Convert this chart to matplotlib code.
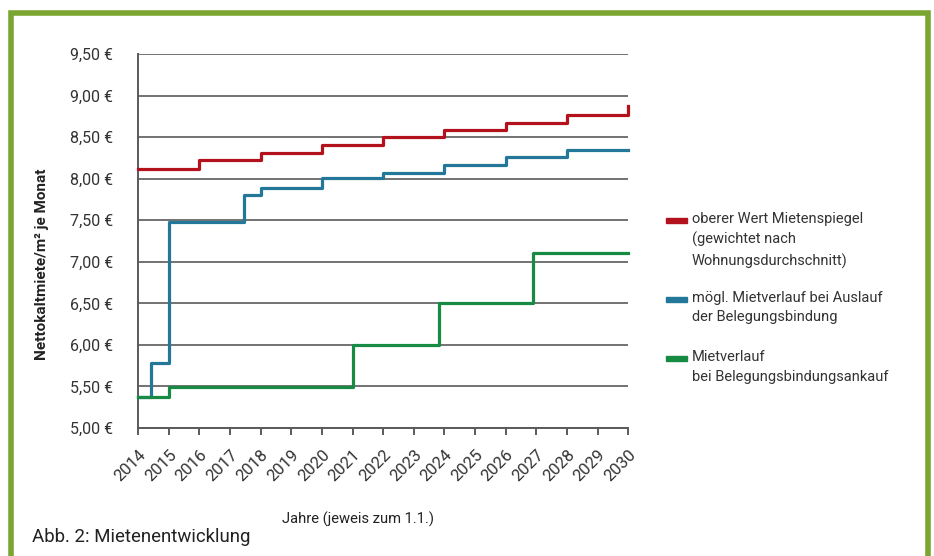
import matplotlib
matplotlib.use('Agg')

import matplotlib.pyplot as plt
from matplotlib.patches import Rectangle
from matplotlib.ticker import FuncFormatter, MultipleLocator

plt.rcParams['font.family'] = ['Roboto', 'DejaVu Sans']

# rent per m² (EUR), step changes per year (value holds from that date on)
years_red = [2014, 2016, 2018, 2020, 2022, 2024, 2026, 2028, 2030]
rent_red = [8.12, 8.23, 8.31, 8.41, 8.50, 8.58, 8.67, 8.77, 8.87]

years_blue = [2014, 2014.42, 2015, 2017.46, 2018, 2020, 2022, 2024, 2026, 2028, 2030]
rent_blue = [5.37, 5.78, 7.48, 7.80, 7.885, 8.01, 8.07, 8.17, 8.26, 8.34, 8.34]

years_green = [2014, 2015, 2021, 2023.83, 2026.9, 2030]
rent_green = [5.37, 5.49, 6.00, 6.51, 7.10, 7.10]

series_labels = [
    'oberer Wert Mietenspiegel\n(gewichtet nach\nWohnungsdurchschnitt)',
    'mögl. Mietverlauf bei Auslauf\nder Belegungsbindung',
    'Mietverlauf\nbei Belegungsbindungsankauf',
]
series_colors = ['#b3121c', '#23789a', '#178a43']
year_ticks = list(range(2014, 2031))

W, H = 934, 556
fig = plt.figure(figsize=(W / 100, H / 100), dpi=100)
fig.patch.set_facecolor('white')


def fx(x):
    return x / W


def fy(y):
    return 1 - y / H


ax = fig.add_axes([fx(138), fy(428), fx(628.3) - fx(138), fy(54) - fy(428)])

grey = '#5a5a5a'
for xs, ys, c in [(years_blue, rent_blue, series_colors[1]),
                  (years_red, rent_red, series_colors[0]),
                  (years_green, rent_green, series_colors[2])]:
    ax.step(xs, ys, where='post', color=c, lw=2.3, clip_on=False, zorder=3)

ax.set_xlim(2014, 2030)
ax.set_ylim(5.0, 9.5)
ax.yaxis.set_major_locator(MultipleLocator(0.5))
ax.yaxis.set_major_formatter(FuncFormatter(lambda v, p: f'{v:.2f} €'.replace('.', ',')))
ax.set_xticks(year_ticks)
ax.set_xticklabels([str(y) for y in year_ticks], rotation=45, ha='right',
                   va='top', rotation_mode='anchor')

ax.grid(axis='y', color=grey, lw=1.2, zorder=1)
for s in ['top', 'right']:
    ax.spines[s].set_visible(False)
for s in ['left', 'bottom']:
    ax.spines[s].set_color(grey)
    ax.spines[s].set_linewidth(1.4)
ax.tick_params(axis='y', length=0, pad=18, labelsize=11.5, labelcolor='#333333')
ax.tick_params(axis='x', length=5, width=1.4, color=grey, direction='out',
               pad=9, labelsize=12, labelcolor='#333333')

fig.text(fx(42), fy(264), 'Nettokaltmiete/m² je Monat', rotation=90,
         ha='center', va='center', fontsize=11, fontweight='bold', color='#222222')
fig.text(fx(358), fy(519), 'Jahre (jeweis zum 1.1.)', ha='center', va='center',
         fontsize=10.6, color='#222222')
fig.text(fx(32), fy(537), 'Abb. 2: Mietenentwicklung', ha='left', va='center',
         fontsize=13.4, color='#222222')

# legend: colour swatch next to the first line of each label
legend_tops = [212, 291, 350]
for label, c, top in zip(series_labels, series_colors, legend_tops):
    fig.patches.append(Rectangle((fx(666), fy(top + 11)), fx(21), fy(top + 6) - fy(top + 11),
                                 transform=fig.transFigure, color=c))
    fig.text(fx(692), fy(top), label, ha='left', va='top', fontsize=10.5,
             color='#333333', linespacing=1.5)

# green frame
fig.patches.append(Rectangle((fx(11), -0.2), fx(928) - fx(11), fy(12.5) + 0.2,
                             transform=fig.transFigure, fill=False,
                             edgecolor='#7aa530', lw=4.0, clip_on=False))

fig.savefig('out.png', dpi=100)
